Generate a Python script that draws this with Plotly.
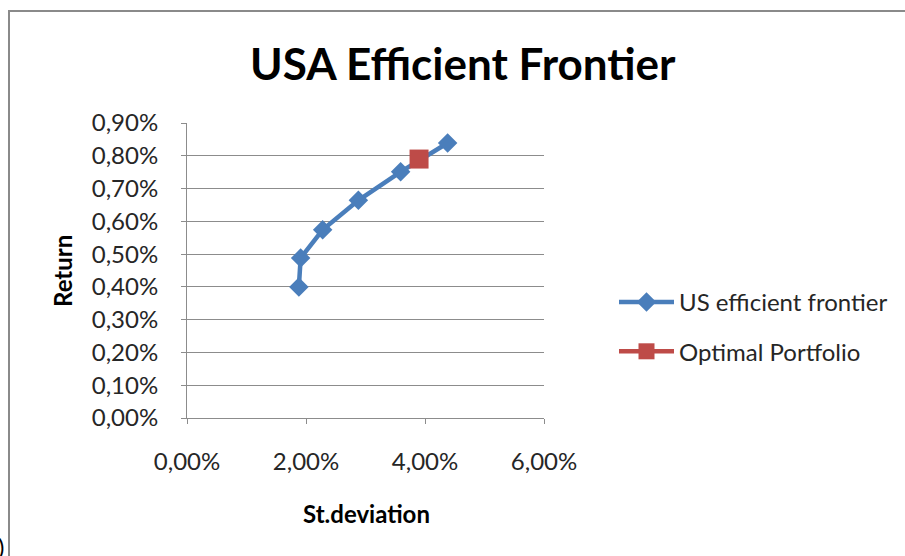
import plotly.graph_objects as go

# Efficient frontier points (standard deviation vs. expected return, in %)
frontier_sd = [1.88, 1.91, 2.28, 2.88, 3.59, 4.38]
frontier_ret = [0.400, 0.488, 0.574, 0.664, 0.751, 0.839]

# Optimal portfolio
optimal_sd = [3.90]
optimal_ret = [0.790]

x_ticks = [0, 2, 4, 6]
x_tick_labels = ["0,00%", "2,00%", "4,00%", "6,00%"]
y_ticks = [0.0, 0.1, 0.2, 0.3, 0.4, 0.5, 0.6, 0.7, 0.8, 0.9]
y_tick_labels = ["0,00%", "0,10%", "0,20%", "0,30%", "0,40%",
                 "0,50%", "0,60%", "0,70%", "0,80%", "0,90%"]

BLUE = "#4A7EBB"
RED = "#BE4B48"
GRID = "#8C8C8C"
FONT = "Lato, 'Open Sans', sans-serif"

fig = go.Figure()
fig.add_trace(go.Scatter(
    x=frontier_sd, y=frontier_ret, mode="lines+markers",
    name="US efficient frontier", legendgroup="a",
    line=dict(color=BLUE, width=4.5),
    marker=dict(symbol="diamond", size=15, color=BLUE),
))
fig.add_trace(go.Scatter(
    x=optimal_sd, y=optimal_ret, mode="lines+markers",
    name="Optimal Portfolio", legendgroup="b",
    line=dict(color=RED, width=4.5),
    marker=dict(symbol="square", size=19, color=RED),
))

W, H = 905, 556
L, R, T, B = 187, 361, 123, 138
pw, ph = W - L - R, H - T - B

def px_x(p):
    return (p - L) / pw

def px_y(p):
    return (H - B - p) / ph

# Outer chart frame
fig.add_shape(type="rect", xref="paper", yref="paper",
              x0=px_x(9), x1=px_x(960), y0=px_y(600), y1=px_y(11),
              line=dict(color="#8A8A8A", width=2), layer="below")

fig.add_annotation(text="USA Efficient Frontier", xref="paper", yref="paper",
                   x=px_x(463), y=px_y(63), showarrow=False,
                   font=dict(family=FONT, size=44, color="#000000", weight="bold"),
                   xanchor="center", yanchor="middle")
fig.add_annotation(text="Return", xref="paper", yref="paper",
                   x=px_x(62), y=px_y(271), showarrow=False, textangle=-90,
                   font=dict(family=FONT, size=24, color="#000000", weight="bold"),
                   xanchor="center", yanchor="middle")
fig.add_annotation(text="St.deviation", xref="paper", yref="paper",
                   x=px_x(366), y=px_y(513), showarrow=False,
                   font=dict(family=FONT, size=24, color="#000000", weight="bold"),
                   xanchor="center", yanchor="middle")
fig.add_annotation(text=")", xref="paper", yref="paper",
                   x=px_x(6), y=px_y(546), showarrow=False,
                   font=dict(family=FONT, size=24, color="#000000"),
                   xanchor="right", yanchor="middle")

fig.update_layout(
    width=W, height=H,
    margin=dict(l=L, r=R, t=T, b=B),
    paper_bgcolor="white", plot_bgcolor="white",
    font=dict(family=FONT, size=24, color="#262626"),
    showlegend=True,
    legend=dict(x=px_x(614), y=px_y(280), xanchor="left", yanchor="top",
                traceorder="grouped", tracegroupgap=15, itemwidth=55,
                font=dict(family=FONT, size=24, color="#262626"),
                bgcolor="rgba(0,0,0,0)"),
)
fig.update_xaxes(range=[0, 6], tickvals=x_ticks, ticktext=x_tick_labels,
                 showgrid=False, zeroline=False, showline=True,
                 linecolor=GRID, linewidth=1, ticks="outside", ticklen=5,
                 tickcolor=GRID, ticklabelstandoff=17, fixedrange=True)
fig.update_yaxes(range=[0, 0.9], tickvals=y_ticks, ticktext=y_tick_labels,
                 showgrid=True, gridcolor=GRID, gridwidth=1, zeroline=False,
                 showline=True, linecolor=GRID, linewidth=1, ticks="outside",
                 ticklen=5, tickcolor=GRID, ticklabelstandoff=18, fixedrange=True)

fig.write_html("out.html")
